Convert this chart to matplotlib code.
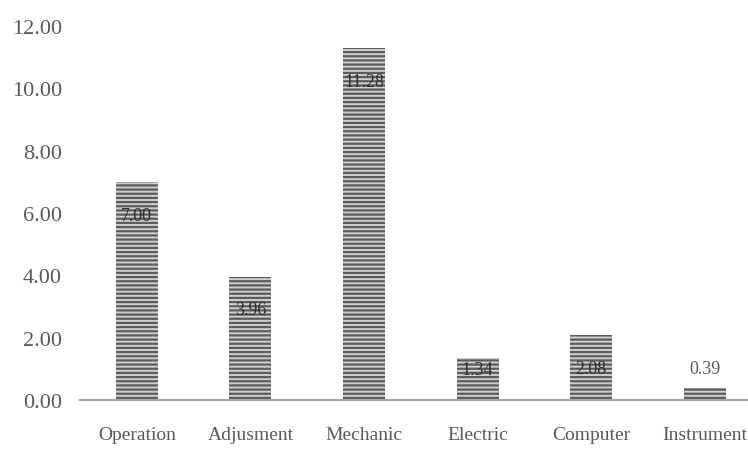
import matplotlib.pyplot as plt
import numpy as np

categories = ["Operation", "Adjusment", "Mechanic", "Electric", "Computer", "Instrument"]
values = [7.00, 3.96, 11.28, 1.34, 2.08, 0.39]
yticks = [0, 2, 4, 6, 8, 10, 12]

plt.rcParams['font.family'] = ['Liberation Serif', 'DejaVu Serif']
plt.rcParams['hatch.linewidth'] = 1.6

fig = plt.figure(figsize=(7.48, 4.52), dpi=100)
ax = fig.add_axes([80 / 748, 51 / 452, 668 / 748, 374 / 452])

x = np.arange(len(categories))
bars = ax.bar(x, values, width=0.37, color='#cfcfcf', edgecolor='#5c5c5c',
              linewidth=0, hatch='----')

for b, v in zip(bars, values):
    cx = b.get_x() + b.get_width() / 2
    if v > 2:
        ax.annotate(f"{v:.2f}", (cx, v), xytext=(0, -24), textcoords='offset points',
                    ha='center', va='center', fontsize=13, color='#303030')
    elif v > 1:
        ax.annotate(f"{v:.2f}", (cx, v), xytext=(0, -8), textcoords='offset points',
                    ha='center', va='center', fontsize=13, color='#303030')
    else:
        ax.annotate(f"{v:.2f}", (cx, v), xytext=(0, 14), textcoords='offset points',
                    ha='center', va='center', fontsize=13, color='#595959')

ax.set_xlim(-0.5, 5.38)
ax.set_ylim(0, 12)
ax.set_yticks(yticks)
ax.set_yticklabels([f"{t:.2f}" for t in yticks])
ax.set_xticks(x)
ax.set_xticklabels(categories)

for s in ['top', 'right', 'left']:
    ax.spines[s].set_visible(False)
ax.spines['bottom'].set_color('#a6a6a6')
ax.spines['bottom'].set_linewidth(1.6)
ax.tick_params(axis='both', length=0, colors='#595959')
ax.tick_params(axis='y', pad=13, labelsize=16)
ax.tick_params(axis='x', pad=19, labelsize=14)

fig.savefig("out.png", dpi=100)
